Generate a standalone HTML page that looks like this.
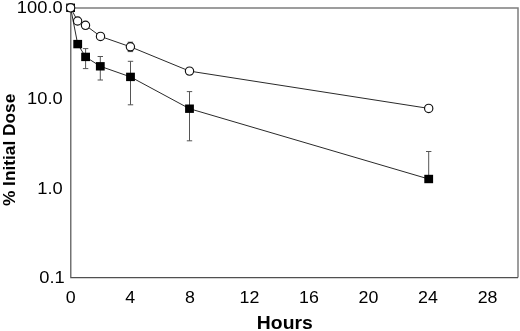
<!DOCTYPE html>
<html><head><meta charset="utf-8"><title>Chart</title><style>html,body{margin:0;padding:0;background:#fff}body{width:520px;height:331px;overflow:hidden}</style></head><body>
<svg width="520" height="331" viewBox="0 0 520 331" style="display:block">
<rect width="520" height="331" fill="#fff"/>
<path d="M70.8 8.0H518.0V277.6" fill="none" stroke="#7e7e7e" stroke-width="1.5"/>
<path d="M70.8 7.3V277.6H518.0" fill="none" stroke="#505050" stroke-width="1.2"/>
<g fill="none" stroke="#2a2a2a" stroke-width="1">
<polyline points="70.6,7.8 77.6,21.0 85.5,25.3 100.5,36.4 130.4,46.8 189.5,71.1 428.7,108.4"/>
<polyline points="70.6,7.8 77.7,44.1 85.6,56.9 100.3,66.3 130.5,76.9 189.5,108.7 428.7,179.0"/>
</g><g fill="none" stroke="#555" stroke-width="1">
<path d="M85.6 48.6V68.6M82.9 48.6H88.3M82.9 68.6H88.3"/>
<path d="M100.3 56.5V80.0M97.6 56.5H103.0M97.6 80.0H103.0"/>
<path d="M130.5 61.3V104.8M127.8 61.3H133.2M127.8 104.8H133.2"/>
<path d="M189.5 91.6V140.8M186.8 91.6H192.2M186.8 140.8H192.2"/>
<path d="M428.7 151.5V179.0M426.0 151.5H431.4"/>
<path d="M130.4 42.2V51.6M127.7 42.2H133.1M127.7 51.6H133.1"/>
</g>
<rect x="66.2" y="3.6" width="8.8" height="8.4" fill="#000"/>
<rect x="73.3" y="39.9" width="8.8" height="8.4" fill="#000"/>
<rect x="81.2" y="52.7" width="8.8" height="8.4" fill="#000"/>
<rect x="95.9" y="62.1" width="8.8" height="8.4" fill="#000"/>
<rect x="126.1" y="72.7" width="8.8" height="8.4" fill="#000"/>
<rect x="185.1" y="104.5" width="8.8" height="8.4" fill="#000"/>
<rect x="424.3" y="174.8" width="8.8" height="8.4" fill="#000"/>
<circle cx="70.6" cy="7.8" r="4.15" fill="#fff" stroke="#111" stroke-width="1.15"/>
<circle cx="77.6" cy="21.0" r="4.15" fill="#fff" stroke="#111" stroke-width="1.15"/>
<circle cx="85.5" cy="25.3" r="4.15" fill="#fff" stroke="#111" stroke-width="1.15"/>
<circle cx="100.5" cy="36.4" r="4.15" fill="#fff" stroke="#111" stroke-width="1.15"/>
<circle cx="130.4" cy="46.8" r="4.15" fill="#fff" stroke="#111" stroke-width="1.15"/>
<circle cx="189.5" cy="71.1" r="4.15" fill="#fff" stroke="#111" stroke-width="1.15"/>
<circle cx="428.7" cy="108.4" r="4.15" fill="#fff" stroke="#111" stroke-width="1.15"/>
<g font-family="'Liberation Sans', sans-serif" fill="#000">
<text transform="translate(62.7,13.2) scale(1.06,1)" font-size="17.3" text-anchor="end">100.0</text>
<text transform="translate(62.7,103.5) scale(1.06,1)" font-size="17.3" text-anchor="end">10.0</text>
<text transform="translate(62.7,193.5) scale(1.06,1)" font-size="17.3" text-anchor="end">1.0</text>
<text transform="translate(64.7,283.1) scale(1.06,1)" font-size="17.3" text-anchor="end">0.1</text>
<text transform="translate(70.8,302.6) scale(1.08,1)" font-size="16.5" text-anchor="middle">0</text>
<text transform="translate(130.3,302.6) scale(1.08,1)" font-size="16.5" text-anchor="middle">4</text>
<text transform="translate(189.9,302.6) scale(1.08,1)" font-size="16.5" text-anchor="middle">8</text>
<text transform="translate(249.4,302.6) scale(1.08,1)" font-size="16.5" text-anchor="middle">12</text>
<text transform="translate(309.0,302.6) scale(1.08,1)" font-size="16.5" text-anchor="middle">16</text>
<text transform="translate(368.5,302.6) scale(1.08,1)" font-size="16.5" text-anchor="middle">20</text>
<text transform="translate(428.0,302.6) scale(1.08,1)" font-size="16.5" text-anchor="middle">24</text>
<text transform="translate(487.6,302.6) scale(1.08,1)" font-size="16.5" text-anchor="middle">28</text>
<text transform="translate(284.8,328.6) scale(1.075,1)" font-size="18" text-anchor="middle" font-weight="bold">Hours</text>
<text transform="translate(15.4,149.9) rotate(-90) scale(1.0,1)" font-size="17.3" text-anchor="middle" font-weight="bold">% Initial Dose</text>
</g>
</svg>
</body></html>
